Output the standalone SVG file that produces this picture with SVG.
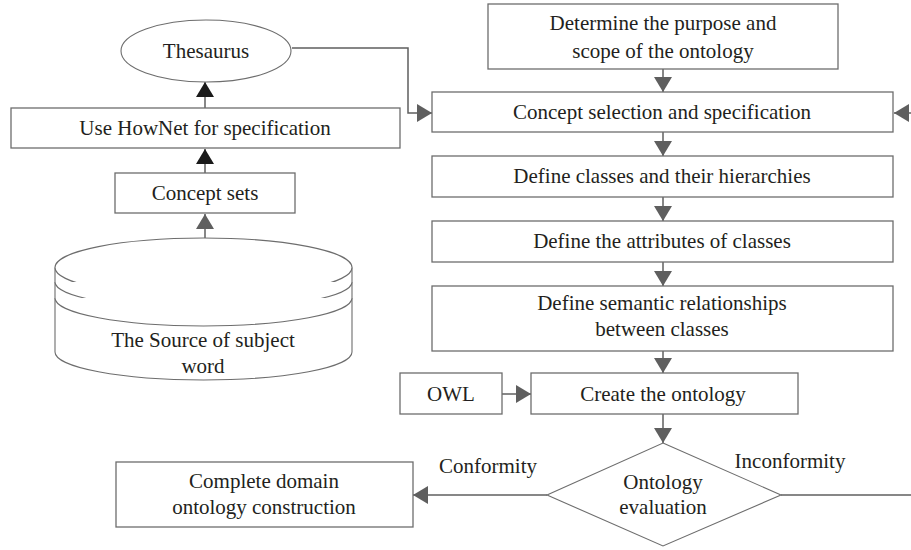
<svg xmlns="http://www.w3.org/2000/svg" width="911" height="550" viewBox="0 0 911 550">
<style>
.box{fill:#fff;stroke:#6d6d6d;stroke-width:1.3}
.shape{fill:#fff;stroke:#6d6d6d;stroke-width:1.1}
.t{font-family:"Liberation Serif","Times New Roman",serif;font-size:21px;fill:#231f20;text-anchor:middle}
.c{fill:none;stroke:#5f5f5f;stroke-width:1.5}
</style>
<defs>
<marker id="ag" viewBox="0 0 15 18" refX="15" refY="9" markerWidth="15" markerHeight="18" markerUnits="userSpaceOnUse" orient="auto">
<path d="M0,0 L15,9 L0,18 z" fill="#5f5f5f"/>
</marker>
<marker id="ab" viewBox="0 0 15 18" refX="15" refY="9" markerWidth="15" markerHeight="18" markerUnits="userSpaceOnUse" orient="auto">
<path d="M0,0 L15,9 L0,18 z" fill="#1a1a1a"/>
</marker>
</defs>
<rect width="911" height="550" fill="#fff"/>
<g id="connectors">
<path class="c" d="M292,48 H408 V113 H432" marker-end="url(#ag)"/>
<path class="c" d="M205,108 V82" stroke="#1a1a1a" marker-end="url(#ab)"/>
<path class="c" d="M205,173 V149" stroke="#1a1a1a" marker-end="url(#ab)"/>
<path class="c" d="M205,238 V214" marker-end="url(#ag)"/>
<path class="c" d="M663,69 V92" marker-end="url(#ag)"/>
<path class="c" d="M663,132 V156" marker-end="url(#ag)"/>
<path class="c" d="M663,197 V221" marker-end="url(#ag)"/>
<path class="c" d="M663,262 V286" marker-end="url(#ag)"/>
<path class="c" d="M663,351 V373" marker-end="url(#ag)"/>
<path class="c" d="M502,394 H531" marker-end="url(#ag)"/>
<path class="c" d="M663,414 V443" marker-end="url(#ag)"/>
<path class="c" d="M547,495 H413" marker-end="url(#ag)"/>
<path class="c" d="M781,495 H911"/>
<path class="c" d="M925,113 H894" marker-end="url(#ag)"/>
<text class="t" x="488" y="473">Conformity</text>
<text class="t" x="790" y="468">Inconformity</text>
</g>
<g id="thesaurus">
<ellipse class="shape" cx="206" cy="51" rx="85" ry="31"/>
<text class="t" x="206" y="58">Thesaurus</text>
</g>
<g id="hownet">
<rect class="box" x="11" y="108" width="389" height="40"/>
<text class="t" x="205" y="135">Use HowNet for specification</text>
</g>
<g id="conceptsets">
<rect class="box" x="115" y="173" width="180" height="40"/>
<text class="t" x="205" y="200">Concept sets</text>
</g>
<g id="source">
<path class="shape" d="M55,267.5 V352 A148.5,28 0 0 0 352,352 V267.5"/>
<ellipse class="shape" cx="203.5" cy="267.5" rx="148.5" ry="29.5"/>
<path class="shape" fill="none" d="M55,282 A148.5,27 0 0 0 352,282"/>
<path class="shape" fill="none" d="M55,298 A148.5,28 0 0 0 352,298"/>
<text class="t" x="203" y="347">The Source of subject</text>
<text class="t" x="203" y="373">word</text>
</g>
<g id="determine">
<rect class="box" x="488" y="4" width="350" height="65"/>
<text class="t" x="663" y="30">Determine the purpose and</text>
<text class="t" x="663" y="58">scope of the ontology</text>
</g>
<g id="conceptsel">
<rect class="box" x="432" y="92" width="461" height="40"/>
<text class="t" x="662" y="119">Concept selection and specification</text>
</g>
<g id="classes">
<rect class="box" x="432" y="156" width="461" height="41"/>
<text class="t" x="662" y="183">Define classes and their hierarchies</text>
</g>
<g id="attributes">
<rect class="box" x="432" y="221" width="461" height="41"/>
<text class="t" x="662" y="248">Define the attributes of classes</text>
</g>
<g id="semantic">
<rect class="box" x="432" y="286" width="461" height="65"/>
<text class="t" x="662" y="310">Define semantic relationships</text>
<text class="t" x="662" y="336">between classes</text>
</g>
<g id="owl">
<rect class="box" x="400" y="373" width="102" height="41"/>
<text class="t" x="451" y="401">OWL</text>
</g>
<g id="create">
<rect class="box" x="531" y="373" width="267" height="41"/>
<text class="t" x="663" y="401">Create the ontology</text>
</g>
<g id="evaluation">
<polygon class="shape" points="663,443 781,495 663,546 547,495"/>
<text class="t" x="663" y="489">Ontology</text>
<text class="t" x="663" y="514">evaluation</text>
</g>
<g id="complete">
<rect class="box" x="116" y="462" width="297" height="65"/>
<text class="t" x="264" y="488">Complete domain</text>
<text class="t" x="264" y="514">ontology construction</text>
</g>
</svg>
